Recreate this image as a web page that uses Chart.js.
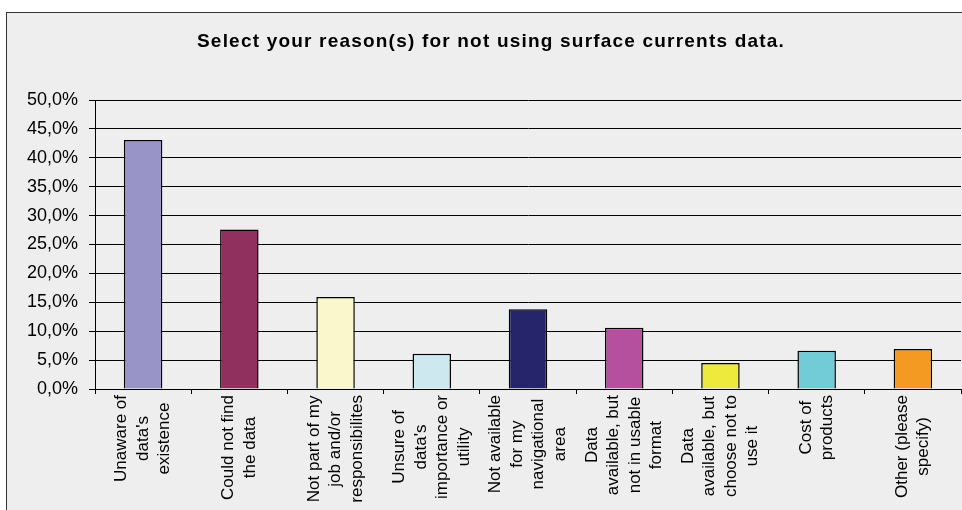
<!DOCTYPE html>
<html><head><meta charset="utf-8">
<script src="https://cdn.jsdelivr.net/npm/chart.js@4/dist/chart.umd.min.js"></script>
<style>html,body{margin:0;padding:0;background:#fff;overflow:hidden}#wrap{width:962px;height:510px}</style>
</head><body><div id="wrap"><canvas id="c" width="962" height="510"></canvas></div>
<script>
const chartTitle = 'Select your reason(s) for not using surface currents data.';
const categories = [
  ["Unaware of", "data's", "existence"],
  ["Could not find", "the data"],
  ["Not part of my", "job and/or", "responsibilites"],
  ["Unsure of", "data's", "importance or", "utility"],
  ["Not available", "for my", "navigational", "area"],
  ["Data", "available, but", "not in usable", "format"],
  ["Data", "available, but", "choose not to", "use it"],
  ["Cost of", "products"],
  ["Other (please", "specify)"]
];
const values = [43.1, 27.6, 15.9, 6.1, 13.8, 10.6, 4.5, 6.6, 6.9];
const barColors = ['#9894c8', '#8f305f', '#faf7cd', '#cde9ef', '#26256b', '#b4509e', '#eeea3c', '#71ccd8', '#f49a22'];
const yTickLabels = ['0,0%', '5,0%', '10,0%', '15,0%', '20,0%', '25,0%', '30,0%', '35,0%', '40,0%', '45,0%', '50,0%'];

const FONT = '"Liberation Sans", Arial, sans-serif';

const decor = {
  id: 'decor',
  beforeDraw(chart) {
    const ctx = chart.ctx;
    ctx.save();
    ctx.fillStyle = '#ffffff';
    ctx.fillRect(0, 0, chart.width, chart.height);
    ctx.fillStyle = '#eeeeee';
    ctx.fillRect(7, 13, chart.width - 7, chart.height - 13);
    ctx.fillStyle = '#333333';
    ctx.fillRect(6, 12, chart.width - 6, 1);
    ctx.fillRect(6, 12, 1, chart.height - 12);
    ctx.restore();
  },
  afterDraw(chart) {
    const ctx = chart.ctx;
    // title
    ctx.save();
    ctx.fillStyle = '#000';
    ctx.font = 'bold 19px ' + FONT;
    try { ctx.letterSpacing = '1.2px'; } catch (e) {}
    ctx.textAlign = 'center';
    ctx.textBaseline = 'alphabetic';
    ctx.fillText(chartTitle, 491, 47);
    ctx.restore();
    // category labels, rotated, lines centred
    const xs = chart.scales.x;
    const blockTop = 395;
    const lh = 21.5;
    ctx.save();
    ctx.fillStyle = '#000';
    ctx.font = '17px ' + FONT;
    ctx.textAlign = 'center';
    ctx.textBaseline = 'middle';
    categories.forEach((lines, i) => {
      const x = xs.getPixelForValue(i);
      let maxW = 0;
      lines.forEach(l => { maxW = Math.max(maxW, ctx.measureText(l).width); });
      ctx.save();
      ctx.translate(x, blockTop);
      ctx.rotate(-Math.PI / 2);
      const n = lines.length;
      lines.forEach((l, j) => {
        ctx.fillText(l, -maxW / 2, (j - (n - 1) / 2) * lh);
      });
      ctx.restore();
    });
    ctx.restore();
  }
};

new Chart(document.getElementById('c'), {
  type: 'bar',
  data: {
    labels: categories.map(c => c.join(' ')),
    datasets: [{
      data: values,
      backgroundColor: barColors,
      borderColor: '#000',
      borderWidth: 1.5,
      barPercentage: 0.4,
      categoryPercentage: 1
    }]
  },
  options: {
    responsive: false,
    animation: false,
    devicePixelRatio: 1,
    layout: { padding: { top: 100, left: 18, right: 1, bottom: 0 } },
    plugins: { legend: { display: false }, title: { display: false }, tooltip: { enabled: false } },
    scales: {
      x: {
        grid: { display: true, drawOnChartArea: false, drawTicks: true, tickLength: 5, color: '#000', offset: true },
        border: { display: true, color: '#000', width: 1 },
        ticks: { display: false },
        afterFit: s => { s.height = 121; }
      },
      y: {
        min: 0,
        max: 50,
        ticks: {
          stepSize: 5,
          color: '#000',
          padding: 11,
          font: { family: FONT, size: 18 },
          callback: (v, i) => yTickLabels[i]
        },
        grid: { color: '#000', lineWidth: 1, tickLength: 6, drawTicks: true },
        border: { display: true, color: '#000', width: 1 },
        afterFit: s => { s.width = 77; }
      }
    }
  },
  plugins: [decor]
});
</script>
</body></html>
